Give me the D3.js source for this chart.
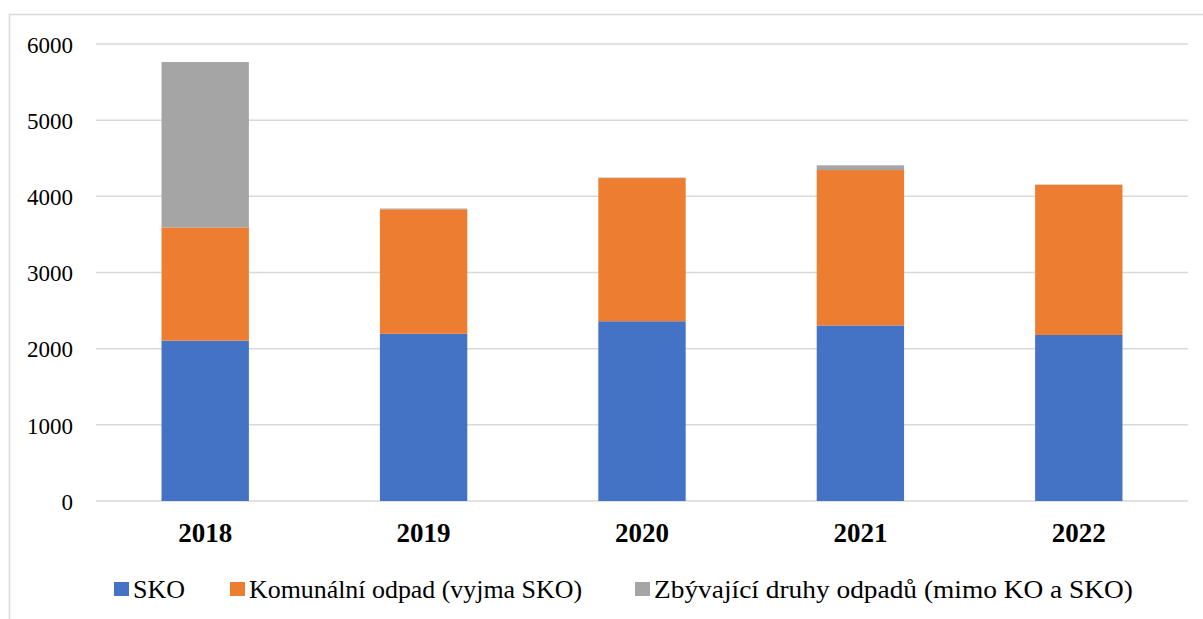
<!DOCTYPE html>
<meta charset="utf-8">
<script src="https://d3js.org/d3.v7.min.js"></script>
<style>
  body { margin: 0; background: #fff; }
</style>
<svg id="chart" width="1203" height="619"></svg>
<script>
// data
var years = ["2018", "2019", "2020", "2021", "2022"]
var sko = [2105, 2195, 2360, 2305, 2180]
var komunalni = [1487, 1635, 1880, 2040, 1972]
var zbyvajici = [2171, 10, 6, 62, 3]
var seriesNames = ["SKO", "Komunální odpad (vyjma SKO)", "Zbývající druhy odpadů (mimo KO a SKO)"]
var colors = ["#4472c4", "#ed7d31", "#a5a5a5"]
var yTicks = [0, 1000, 2000, 3000, 4000, 5000, 6000]

var FONT = "'Liberation Serif', 'Times New Roman', serif"
var svg = d3.select("#chart")

// outer frame
svg.append("rect")
    .attr("x", 9.5).attr("y", 14.5)
    .attr("width", 1200).attr("height", 620)
    .attr("fill", "none").attr("stroke", "#d9d9d9").attr("stroke-width", 1.5)

var plotLeft = 96, plotRight = 1188, plotTop = 44, plotBottom = 501

var x = d3.scaleBand().domain(years).range([plotLeft, plotRight]).paddingInner(0.6).paddingOuter(0.3)
var y = d3.scaleLinear().domain([0, 6000]).range([plotBottom, plotTop])

// gridlines
svg.append("g").selectAll("line")
    .data(yTicks)
  .enter().append("line")
    .attr("x1", plotLeft).attr("x2", plotRight)
    .attr("y1", function(d){ return y(d) }).attr("y2", function(d){ return y(d) })
    .attr("stroke", "#d9d9d9").attr("stroke-width", 1.5)

// y axis labels
var yAxis = d3.axisLeft(y).tickValues(yTicks).tickSize(0).tickPadding(23).tickFormat(d3.format("d"))
var gy = svg.append("g").attr("transform", "translate(" + plotLeft + ",0)").call(yAxis)
gy.attr("font-family", null).attr("font-size", null)
gy.select(".domain").remove()
gy.selectAll("text")
    .style("font-family", FONT).style("font-size", "23px").style("fill", "#000")
    .attr("dy", "0.36em")

// stacked bars
var table = years.map(function(yr, i){
  return {year: yr, s0: sko[i], s1: komunalni[i], s2: zbyvajici[i]}
})
var stack = d3.stack().keys(["s0", "s1", "s2"])(table)

svg.append("g").selectAll("g")
    .data(stack)
  .enter().append("g")
    .attr("fill", function(d, i){ return colors[i] })
  .selectAll("rect")
    .data(function(d){ return d })
  .enter().append("rect")
    .attr("x", function(d){ return x(d.data.year) })
    .attr("width", x.bandwidth())
    .attr("y", function(d){ return y(d[1]) })
    .attr("height", function(d){ return y(d[0]) - y(d[1]) })

// x axis labels
var xAxis = d3.axisBottom(x).tickSize(0).tickPadding(22)
var gx = svg.append("g").attr("transform", "translate(0," + plotBottom + ")").call(xAxis)
gx.attr("font-family", null).attr("font-size", null)
gx.select(".domain").remove()
gx.selectAll("text")
    .style("font-family", FONT).style("font-size", "27px").style("font-weight", "bold").style("fill", "#000")

// legend
var legendX = [114, 230, 635]
var legendW = [52, 333, 479]
var lg = svg.append("g").selectAll("g")
    .data(seriesNames)
  .enter().append("g")
    .attr("transform", function(d, i){ return "translate(" + legendX[i] + ",589)" })
lg.append("rect")
    .attr("x", 0).attr("y", -7).attr("width", 15).attr("height", 14)
    .attr("fill", function(d, i){ return colors[i] })
lg.append("text")
    .attr("x", 19).attr("dy", "0.35em")
    .attr("textLength", function(d, i){ return legendW[i] })
    .attr("lengthAdjust", "spacingAndGlyphs")
    .style("font-family", FONT).style("font-size", "26px").style("fill", "#000")
    .text(function(d){ return d })
</script>
